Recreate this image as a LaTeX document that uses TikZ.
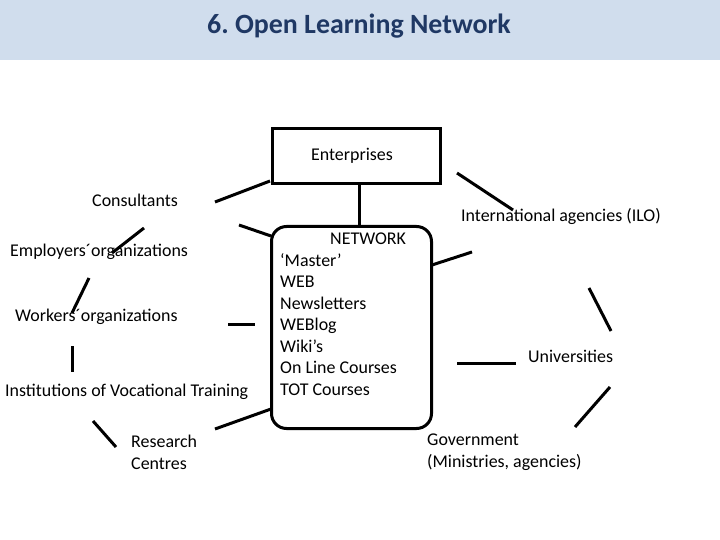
\documentclass[tikz,border=0pt]{standalone}
\usepackage{fontspec}
\setmainfont{Carlito}
\usepackage{xcolor}
\definecolor{header}{HTML}{D0DDED}
\definecolor{titleblue}{HTML}{1F3864}
\tikzset{
  actor/.style={font=\fontsize{18}{21.5}\selectfont,inner sep=0pt,align=left,anchor=base west},
  entbox/.style={draw,line width=3bp,minimum width=168bp,minimum height=55bp,inner sep=0pt,
    font=\fontsize{18}{21.5}\selectfont},
  netbox/.style={draw,line width=3bp,rounded corners=15bp,minimum width=160bp,minimum height=202bp},
  link/.style={line width=3bp}
}
\frenchspacing

\begin{document}
\begin{tikzpicture}[x=1bp,y=-1bp]
  \useasboundingbox (0,0) rectangle (720,540);
  \fill[header] (0,0) rectangle (720,60);
  \node[anchor=base,text=titleblue,font=\fontsize{28}{32}\selectfont\bfseries] (title) at (359,34) {6. Open Learning Network};

  % the two boxes
  \node[entbox] (ent) at (356,156) {};
  \node[anchor=base,font=\fontsize{18}{21.5}\selectfont,inner sep=0pt] (enttxt) at (352,161) {Enterprises};
  \node[netbox] (net) at (351.5,327.5) {};
  \node[actor] (nettitle) at (330,245) {NETWORK};
  % multi-line nodes sit on their last baseline
  \node[actor] (netlist) at (280,395) {‘Master’\\WEB\\Newsletters\\WEBlog\\Wiki’s\\On Line Courses\\TOT Courses};

  % actors round the network
  \node[actor] (cons) at (92,207) {Consultants};
  \node[actor] (empl) at (10,257) {Employers´organizations};
  \node[actor] (work) at (15,321) {Workers´organizations};
  \node[actor] (inst) at (5,396) {Institutions of Vocational Training};
  \node[actor] (res) at (131,469) {Research\\Centres};
  \node[actor] (ilo) at (461,222) {International agencies (ILO)};
  \node[actor] (univ) at (528,362) {Universities};
  \node[actor] (gov) at (427,467) {Government\\(Ministries, agencies)};

  % loose ends of the strokes
  \coordinate (c1) at (215,202);  \coordinate (c2) at (270,181);
  \coordinate (c3) at (239,225);  \coordinate (c4) at (271,236);
  \coordinate (c5) at (144,228);  \coordinate (c6) at (112,253);
  \coordinate (c7) at (89,278);   \coordinate (c8) at (72,313);
  \coordinate (c9) at (228,324);  \coordinate (c10) at (255,324);
  \coordinate (c11) at (72,346);  \coordinate (c12) at (72,372);
  \coordinate (c13) at (93,421);  \coordinate (c14) at (116,447);
  \coordinate (c15) at (215,429); \coordinate (c16) at (271,409);
  \coordinate (c17) at (457,173); \coordinate (c18) at (513,210);
  \coordinate (c19) at (432,265); \coordinate (c20) at (472,252);
  \coordinate (c21) at (589,288); \coordinate (c22) at (611,331);
  \coordinate (c23) at (457,363); \coordinate (c24) at (516,363);
  \coordinate (c25) at (610,387); \coordinate (c26) at (575,427);

  \draw[link] (ent.south -| 359,0) -- (net.north -| 359,0);
  \draw[link] (c1) -- (c2);
  \draw[link] (c3) -- (c4);
  \draw[link] (c5) -- (c6);
  \draw[link] (c7) -- (c8);
  \draw[link] (c9) -- (c10);
  \draw[link] (c11) -- (c12);
  \draw[link] (c13) -- (c14);
  \draw[link] (c15) -- (c16);
  \draw[link] (c17) -- (c18);
  \draw[link] (c19) -- (c20);
  \draw[link] (c21) -- (c22);
  \draw[link] (c23) -- (c24);
  \draw[link] (c25) -- (c26);
\end{tikzpicture}
\end{document}
